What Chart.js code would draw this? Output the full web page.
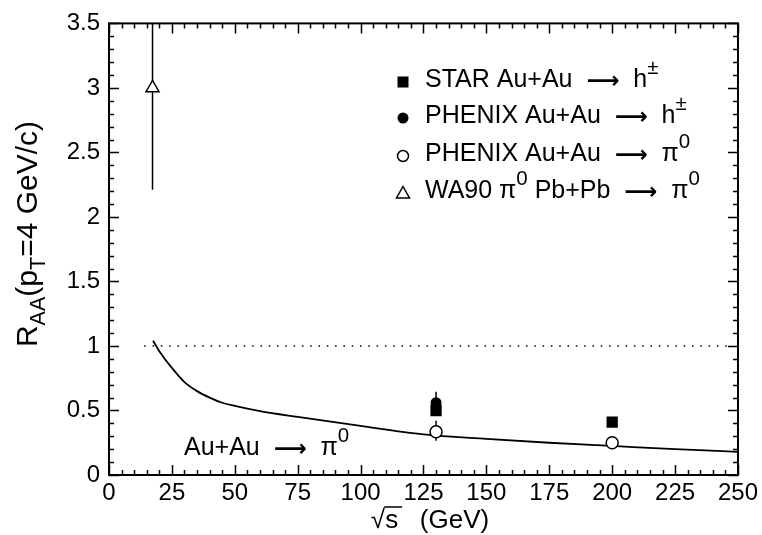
<!DOCTYPE html>
<html>
<head>
<meta charset="utf-8">
<script src="https://cdn.jsdelivr.net/npm/chart.js@4.4.0/dist/chart.umd.min.js"></script>
<style>
  html, body { margin: 0; padding: 0; background: #fff; }
  #wrap { width: 762px; height: 535px; }
</style>
</head>
<body>
<div id="wrap"><canvas id="raaChart"></canvas></div>
<script>
// theory curve, Au+Au -> pi0
const curveSqrtS = [17.5, 20, 25, 30, 35, 40, 45, 50, 60, 75, 100, 125, 150, 175, 200, 225, 250];
const curveRaa = [1.04, 0.96, 0.83, 0.72, 0.65, 0.6, 0.56, 0.535, 0.495, 0.45, 0.38, 0.315, 0.28, 0.25, 0.225, 0.2, 0.18];

// R_AA = 1 reference (dotted)
const refSqrtS = [14, 248];
const refRaa = [1, 1];

// measurements
const starSqrtS = [130, 200];
const starRaa = [0.5, 0.41];

const phenixHSqrtS = [130];
const phenixHRaa = [0.56];
const phenixHLo = [0.46];
const phenixHHi = [0.645];

const phenixPi0SqrtS = [130, 200];
const phenixPi0Raa = [0.335, 0.25];
const phenixPi0Lo = [0.265, 0.23];
const phenixPi0Hi = [0.42, 0.27];

const wa90SqrtS = [17.3];
const wa90Raa = [3.0];
const wa90Lo = [2.21];
const wa90Hi = [3.9];

// axis ticks
const xMajorStep = 25, xMinorStep = 5;
const yMajorStep = 0.5, yMinorStep = 0.1;

// legend text pieces: [text, 'sup' | 'sub' | 'arrow' | '']
const legendLabels = [
  [['STAR Au+Au  ', ''], ['\u27F6', 'arrow'], ['  h', ''], ['\u00B1', 'sup']],
  [['PHENIX Au+Au  ', ''], ['\u27F6', 'arrow'], ['  h', ''], ['\u00B1', 'sup']],
  [['PHENIX Au+Au  ', ''], ['\u27F6', 'arrow'], ['  \u03C0', ''], ['0', 'sup']],
  [['WA90 \u03C0', ''], ['0', 'sup'], [' Pb+Pb  ', ''], ['\u27F6', 'arrow'], ['  \u03C0', ''], ['0', 'sup']]
];
const legendMarkers = ['rect', 'circle', 'openCircle', 'triangle'];
const curveLabel = [['Au+Au  ', ''], ['\u27F6', 'arrow'], ['  \u03C0', ''], ['0', 'sup']];
const yTitle = [['R', ''], ['AA', 'sub'], ['(p', ''], ['T', 'sub'], ['=4 GeV/c)', '']];

const FONT = "'Liberation Sans', Arial, 'DejaVu Sans', sans-serif";
const ARROW_FONT = "'DejaVu Sans', sans-serif";

function pts(xs, ys) {
  return xs.map((x, i) => ({ x: x, y: ys[i] }));
}

function pieceFont(p, size) {
  if (p[1] === 'arrow') return 'bold ' + (size * 0.92) + 'px ' + ARROW_FONT;
  if (p[1] === 'sup') return (size * 0.82) + 'px ' + FONT;
  if (p[1] === 'sub') return (size * 0.72) + 'px ' + FONT;
  return size + 'px ' + FONT;
}

function richWidth(ctx, pieces, size) {
  let w = 0;
  pieces.forEach(p => {
    ctx.font = pieceFont(p, size);
    w += ctx.measureText(p[0]).width;
  });
  return w;
}

function drawRich(ctx, x, y, pieces, size) {
  ctx.textBaseline = 'alphabetic';
  ctx.textAlign = 'left';
  pieces.forEach(p => {
    let dy = 0;
    if (p[1] === 'sup') dy = -size * 0.52;
    if (p[1] === 'sub') dy = size * 0.25;
    if (p[1] === 'arrow') dy = size * 0.02;
    ctx.font = pieceFont(p, size);
    ctx.fillText(p[0], x, y + dy);
    x += ctx.measureText(p[0]).width;
  });
}

function drawMarker(ctx, kind, x, y) {
  ctx.save();
  ctx.lineWidth = 1.5;
  ctx.strokeStyle = '#000';
  ctx.fillStyle = '#000';
  ctx.beginPath();
  if (kind === 'rect') {
    ctx.rect(x - 5.5, y - 5.5, 11, 11);
    ctx.fill();
  } else if (kind === 'circle') {
    ctx.arc(x, y, 5.5, 0, Math.PI * 2);
    ctx.fill();
  } else if (kind === 'openCircle') {
    ctx.arc(x, y, 5.5, 0, Math.PI * 2);
    ctx.fillStyle = '#fff';
    ctx.fill();
    ctx.stroke();
  } else {
    ctx.moveTo(x, y - 6.5);
    ctx.lineTo(x + 6.5, y + 5);
    ctx.lineTo(x - 6.5, y + 5);
    ctx.closePath();
    ctx.fillStyle = '#fff';
    ctx.fill();
    ctx.stroke();
  }
  ctx.restore();
}

// vertical error bars under the markers
const errorBars = {
  id: 'errorBars',
  beforeDatasetsDraw(chart) {
    const ctx = chart.ctx, xs = chart.scales.x, ys = chart.scales.y, a = chart.chartArea;
    ctx.save();
    ctx.beginPath();
    ctx.rect(a.left, a.top, a.right - a.left, a.bottom - a.top);
    ctx.clip();
    ctx.strokeStyle = '#000';
    ctx.lineWidth = 1.5;
    chart.data.datasets.forEach(ds => {
      if (!ds.errLo) return;
      ds.data.forEach((p, i) => {
        const px = xs.getPixelForValue(p.x);
        ctx.beginPath();
        ctx.moveTo(px, ys.getPixelForValue(ds.errLo[i]));
        ctx.lineTo(px, ys.getPixelForValue(ds.errHi[i]));
        ctx.stroke();
      });
    });
    ctx.restore();
  }
};

// frame, inward ticks, titles, legend
const decorations = {
  id: 'decorations',
  afterDraw(chart) {
    const ctx = chart.ctx, xs = chart.scales.x, ys = chart.scales.y, a = chart.chartArea;
    ctx.save();
    ctx.strokeStyle = '#000';
    ctx.fillStyle = '#000';

    ctx.lineWidth = 1.5;
    for (let v = xs.min; v <= xs.max + 1e-6; v += xMinorStep) {
      const px = Math.round(xs.getPixelForValue(v)) + 0.5;
      const len = Math.abs(v % xMajorStep) < 1e-6 ? 10 : 5;
      ctx.beginPath();
      ctx.moveTo(px, a.bottom); ctx.lineTo(px, a.bottom - len);
      ctx.moveTo(px, a.top); ctx.lineTo(px, a.top + len);
      ctx.stroke();
    }
    for (let k = 0; k <= Math.round((ys.max - ys.min) / yMinorStep); k++) {
      const v = ys.min + k * yMinorStep;
      const py = Math.round(ys.getPixelForValue(v)) + 0.5;
      const len = k % Math.round(yMajorStep / yMinorStep) === 0 ? 10 : 5;
      ctx.beginPath();
      ctx.moveTo(a.left, py); ctx.lineTo(a.left + len, py);
      ctx.moveTo(a.right, py); ctx.lineTo(a.right - len, py);
      ctx.stroke();
    }

    ctx.lineWidth = 2;
    ctx.strokeRect(a.left, a.top, a.right - a.left, a.bottom - a.top);

    // y title, rotated
    const ySize = 30;
    const yw = richWidth(ctx, yTitle, ySize);
    ctx.save();
    ctx.translate(37, 234 + yw / 2);
    ctx.rotate(-Math.PI / 2);
    drawRich(ctx, 0, 0, yTitle, ySize);
    ctx.restore();

    // x title: sqrt(s) (GeV)
    const xSize = 26;
    ctx.font = xSize + 'px ' + FONT;
    const sq = '\u221A', s = 's', rest = '   (GeV)';
    const wSq = ctx.measureText(sq).width, wS = ctx.measureText(s).width;
    const wAll = wSq + wS + ctx.measureText(rest).width;
    let tx = 430 - wAll / 2;
    const by = 528;
    ctx.textAlign = 'left';
    ctx.textBaseline = 'alphabetic';
    ctx.fillText(sq, tx, by);
    ctx.fillText(s, tx + wSq, by);
    ctx.fillText(rest, tx + wSq + wS, by);
    ctx.lineWidth = 1.5;
    ctx.beginPath();
    ctx.moveTo(tx + wSq - 1, by - 21);
    ctx.lineTo(tx + wSq + wS + 4, by - 21);
    ctx.stroke();

    // legend
    const rowY = [82, 118, 156, 193];
    legendLabels.forEach((pieces, i) => {
      drawMarker(ctx, legendMarkers[i], 403, rowY[i]);
      ctx.fillStyle = '#000';
      drawRich(ctx, 425, rowY[i] + 5, pieces, 25);
    });

    // curve label
    drawRich(ctx, 184, 455, curveLabel, 25);
    ctx.restore();
  }
};

const ctx = document.getElementById('raaChart').getContext('2d');
const chart = new Chart(ctx, {
  type: 'scatter',
  data: {
    datasets: [
      {
        label: 'STAR Au+Au -> h+-',
        data: pts(starSqrtS, starRaa),
        pointStyle: 'rect',
        pointRadius: 8,
        backgroundColor: '#000',
        borderColor: '#000',
        borderWidth: 0
      },
      {
        label: 'PHENIX Au+Au -> h+-',
        data: pts(phenixHSqrtS, phenixHRaa),
        errLo: phenixHLo,
        errHi: phenixHHi,
        pointStyle: 'circle',
        pointRadius: 5.5,
        backgroundColor: '#000',
        borderColor: '#000',
        borderWidth: 0
      },
      {
        label: 'PHENIX Au+Au -> pi0',
        data: pts(phenixPi0SqrtS, phenixPi0Raa),
        errLo: phenixPi0Lo,
        errHi: phenixPi0Hi,
        pointStyle: 'circle',
        pointRadius: 6,
        backgroundColor: '#fff',
        borderColor: '#000',
        borderWidth: 1.5
      },
      {
        label: 'WA90 pi0 Pb+Pb -> pi0',
        data: pts(wa90SqrtS, wa90Raa),
        errLo: wa90Lo,
        errHi: wa90Hi,
        pointStyle: 'triangle',
        pointRadius: 7.5,
        backgroundColor: '#fff',
        borderColor: '#000',
        borderWidth: 1.5
      },
      {
        label: 'Au+Au -> pi0 curve',
        type: 'line',
        data: pts(curveSqrtS, curveRaa),
        borderColor: '#000',
        borderWidth: 1.8,
        pointRadius: 0,
        cubicInterpolationMode: 'monotone',
        fill: false
      },
      {
        label: 'R_AA = 1',
        type: 'line',
        data: pts(refSqrtS, refRaa),
        borderColor: '#000',
        borderWidth: 1.5,
        borderDash: [1.5, 6.8],
        pointRadius: 0,
        fill: false
      }
    ]
  },
  options: {
    responsive: true,
    maintainAspectRatio: false,
    animation: false,
    events: [],
    layout: {
      padding: { left: 0, top: 13, right: 23, bottom: 0 }
    },
    scales: {
      x: {
        type: 'linear',
        min: 0,
        max: 250,
        border: { display: false },
        grid: { display: false, drawTicks: false },
        ticks: {
          stepSize: 25,
          padding: 4,
          color: '#000',
          font: { family: FONT, size: 24 },
          maxRotation: 0
        },
        afterFit: function(scale) { scale.height = 60; }
      },
      y: {
        type: 'linear',
        min: 0,
        max: 3.5,
        border: { display: false },
        grid: { display: false, drawTicks: false },
        ticks: {
          stepSize: 0.5,
          padding: 9,
          color: '#000',
          font: { family: FONT, size: 24 },
          callback: function(value) { return String(value); }
        },
        afterFit: function(scale) { scale.width = 109; }
      }
    },
    plugins: {
      legend: { display: false },
      tooltip: { enabled: false }
    }
  },
  plugins: [errorBars, decorations]
});
</script>
</body>
</html>
